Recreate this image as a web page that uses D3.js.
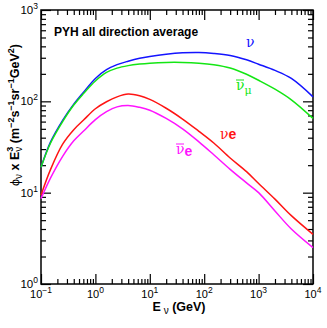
<!DOCTYPE html>
<html>
<head>
<meta charset="utf-8">
<script src="https://cdn.jsdelivr.net/npm/d3@7"></script>
<style>
  body { margin: 0; background: white; }
  svg text { font-family: "Liberation Sans", Arial, sans-serif; }
</style>
</head>
<body>
<script>
// neutrino flux x E^3
const energy = [0.1, 0.15, 0.25, 0.4, 0.6, 1, 1.6, 2.5, 4, 6.5, 10, 20, 40, 80, 150, 300, 600, 1000, 2000, 4000, 10000];
const numu    = [19, 36, 62, 93, 125, 178, 222, 252, 275, 296, 310, 328, 340, 343, 335, 318, 285, 255, 218, 178, 112];
const numubar = [19, 35, 60, 91, 121, 167, 207, 231, 246, 256, 262, 267, 267, 262, 252, 232, 198, 170, 136, 104, 65];
const nue     = [9.4, 18, 34, 49, 62, 83, 99, 112, 120, 115, 105, 84, 64, 47, 35, 24, 17, 12.6, 8.5, 5.6, 3.5];
const nuebar  = [8.6, 14.5, 25, 37, 47, 63, 77, 87, 90, 86, 80, 65, 50, 36, 26, 18, 12.8, 10, 6.3, 4.0, 2.5];

const xMajor = [-1, 0, 1, 2, 3, 4];
const yMajor = [0, 1, 2, 3];

let margin = {top: 10, left: 41, right: 14, bottom: 44},
  width = 327 - margin.left - margin.right,
  height = 328 - margin.top - margin.bottom;

let svg = d3.select('body')
  .append('svg')
  .attr('width', 327)
  .attr('height', 328);

let g = svg.append('g')
  .attr('transform', `translate(${margin.left},${margin.top})`);

const x = d3.scaleLog().domain([0.1, 10000]).range([0, width]);
const y = d3.scaleLog().domain([1, 1000]).range([height, 0]);

// minor tick values 2..9 in every decade
function minors(lo, hi) {
  let out = [];
  for (let e = lo; e < hi; e++) {
    for (let m = 2; m < 10; m++) out.push(m * Math.pow(10, e));
  }
  return out;
}
const xMin = minors(-1, 4), yMin = minors(0, 3);
const xMaj = xMajor.map(e => Math.pow(10, e));
const yMaj = yMajor.map(e => Math.pow(10, e));

function tickAxis(axis, vals, size, transform) {
  let a = g.append('g')
    .attr('transform', transform)
    .call(axis.tickValues(vals).tickSize(size).tickFormat(''));
  a.select('.domain').remove();
  a.selectAll('line').attr('stroke', '#000').attr('stroke-width', 1.2);
}
// ticks on all four sides, pointing inward
tickAxis(d3.axisBottom(x), xMaj, -10, `translate(0,${height})`);
tickAxis(d3.axisBottom(x), xMin, -5, `translate(0,${height})`);
tickAxis(d3.axisTop(x), xMaj, -10, 'translate(0,0)');
tickAxis(d3.axisTop(x), xMin, -5, 'translate(0,0)');
tickAxis(d3.axisLeft(y), yMaj, -10, 'translate(0,0)');
tickAxis(d3.axisLeft(y), yMin, -5, 'translate(0,0)');
tickAxis(d3.axisRight(y), yMaj, -10, `translate(${width},0)`);
tickAxis(d3.axisRight(y), yMin, -5, `translate(${width},0)`);

g.append('rect')
  .attr('width', width)
  .attr('height', height)
  .attr('fill', 'none')
  .attr('stroke', '#000')
  .attr('stroke-width', 1.5);

// tick labels 10^n
g.selectAll('.xlab')
  .data(xMajor)
  .join('text')
  .attr('class', 'xlab')
  .attr('x', d => x(Math.pow(10, d)))
  .attr('y', height + 14)
  .attr('text-anchor', 'middle')
  .style('font-size', '11px')
  .each(function (d) {
    let t = d3.select(this);
    t.append('tspan').text('10');
    t.append('tspan').attr('dy', -5).style('font-size', '8.5px').text(d < 0 ? '\u2212' + (-d) : d);
  });

g.selectAll('.ylab')
  .data(yMajor)
  .join('text')
  .attr('class', 'ylab')
  .attr('x', -3)
  .attr('y', d => y(Math.pow(10, d)) + 4)
  .attr('text-anchor', 'end')
  .style('font-size', '11.5px')
  .each(function (d) {
    let t = d3.select(this);
    t.append('tspan').text('10');
    t.append('tspan').attr('dy', -5).style('font-size', '8.5px').text(d);
  });

// curves
const series = [
  {vals: numu, color: '#1414ff'},
  {vals: numubar, color: '#14e614'},
  {vals: nue, color: '#ff1414'},
  {vals: nuebar, color: '#ff14ff'}
];
const line = d3.line()
  .x(d => x(d[0]))
  .y(d => y(d[1]))
  .curve(d3.curveCatmullRom.alpha(0.5));

g.selectAll('.flux')
  .data(series)
  .join('path')
  .attr('class', 'flux')
  .attr('d', s => line(energy.map((e, i) => [e, s.vals[i]])))
  .attr('fill', 'none')
  .attr('stroke', s => s.color)
  .attr('stroke-width', 1.5);

// title
g.append('text')
  .attr('x', 13)
  .attr('y', 26)
  .style('font-size', '12px')
  .style('font-weight', 'bold')
  .text('PYH all direction average');

// curve labels
g.append('text')
  .attr('x', 205)
  .attr('y', 37)
  .attr('fill', '#1414ff')
  .style('font-size', '14px')
  .style('font-family', 'DejaVu Serif')
  .text('\u03bd');

let lb = g.append('text')
  .attr('x', 195)
  .attr('y', 80)
  .attr('fill', '#14e614')
  .style('font-size', '14px')
  .style('font-family', 'DejaVu Serif');
lb.append('tspan').text('\u03bd');
lb.append('tspan').attr('dy', 4).style('font-size', '11px').text('\u03bc');
g.append('line')
  .attr('x1', 195).attr('x2', 203)
  .attr('y1', 70).attr('y2', 70)
  .attr('stroke', '#14e614').attr('stroke-width', 1);

let le = g.append('text')
  .attr('x', 179)
  .attr('y', 129)
  .attr('fill', '#ff1414')
  .style('font-size', '14px');
le.append('tspan').style('font-family', 'DejaVu Serif').text('\u03bd');
le.append('tspan').style('font-weight', 'bold').text('e');

let lbe = g.append('text')
  .attr('x', 135)
  .attr('y', 144)
  .attr('fill', '#ff14ff')
  .style('font-size', '14px');
lbe.append('tspan').style('font-family', 'DejaVu Serif').text('\u03bd');
lbe.append('tspan').attr('dy', 2).style('font-weight', 'bold').text('e');
g.append('line')
  .attr('x1', 135).attr('x2', 143)
  .attr('y1', 134).attr('y2', 134)
  .attr('stroke', '#ff14ff').attr('stroke-width', 1);

// x label
let xl = svg.append('text')
  .attr('x', 179)
  .attr('y', 311)
  .attr('text-anchor', 'middle')
  .style('font-size', '12.5px')
  .style('font-weight', 'bold');
xl.append('tspan').text('E');
xl.append('tspan').attr('dy', 3).style('font-weight', 'normal').style('font-size', '10px').text(' \u03bd');
xl.append('tspan').attr('dy', -3).text(' (GeV)');

// y label
let yl = svg.append('text')
  .attr('transform', 'translate(19,115) rotate(-90)')
  .attr('text-anchor', 'middle')
  .style('font-size', '12.5px')
  .style('font-weight', 'bold');
yl.append('tspan').style('font-weight', 'normal').text('\u03d5');
yl.append('tspan').attr('dy', 3).style('font-weight', 'normal').style('font-size', '10px').text('\u03bd');
yl.append('tspan').attr('dy', -3).text(' x E');
yl.append('tspan').attr('dy', 3).style('font-weight', 'normal').style('font-size', '10px').text('\u03bd');
yl.append('tspan').attr('dx', -5).attr('dy', -9).style('font-size', '9px').text('3');
yl.append('tspan').attr('dy', 6).text(' (m');
yl.append('tspan').attr('dy', -5).style('font-size', '9px').text('\u22122');
yl.append('tspan').attr('dy', 5).text('s');
yl.append('tspan').attr('dy', -5).style('font-size', '9px').text('\u22121');
yl.append('tspan').attr('dy', 5).text('sr');
yl.append('tspan').attr('dy', -5).style('font-size', '9px').text('\u22121');
yl.append('tspan').attr('dy', 5).text('GeV');
yl.append('tspan').attr('dy', -5).style('font-size', '9px').text('2');
yl.append('tspan').attr('dy', 5).text(')');
</script>
</body>
</html>
